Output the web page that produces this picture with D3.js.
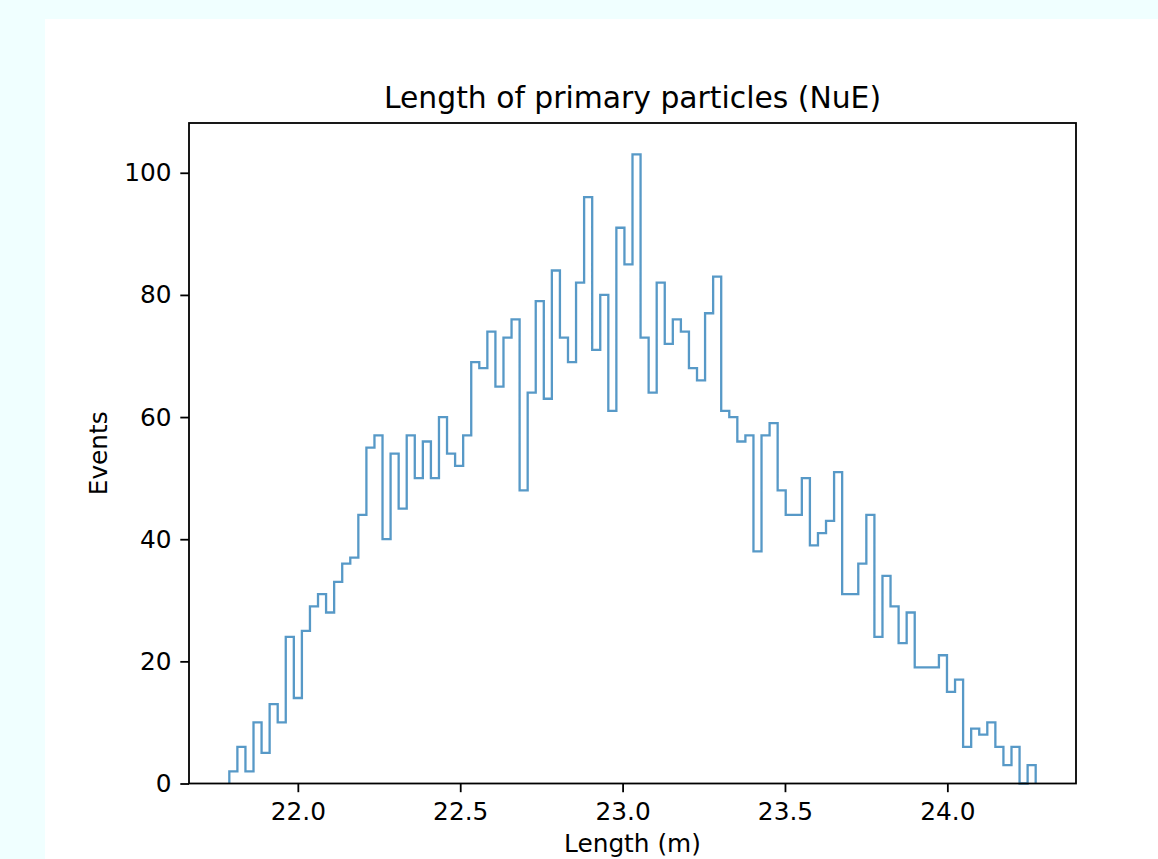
<!DOCTYPE html>
<html>
<head>
<meta charset="utf-8">
<script src="https://cdn.jsdelivr.net/npm/d3@7"></script>
<style>
	body { margin: 0; background: #f0ffff; overflow: hidden; }
	svg { display: block; }
	text { font-family: "DejaVu Sans", sans-serif; fill: #000; }
</style>
</head>
<body>
<script>
const w = 1158;
const h = 859;

// histogram: 100 equal bins between binStart and binEnd
const binStart = 21.789;
const binEnd = 24.272;
const counts = [
	2, 6, 2, 10, 5, 13, 10, 24, 14, 25,
	29, 31, 28, 33, 36, 37, 44, 55, 57, 40,
	54, 45, 57, 50, 56, 50, 60, 54, 52, 57,
	69, 68, 74, 65, 73, 76, 48, 64, 79, 63,
	84, 73, 69, 82, 96, 71, 80, 61, 91, 85,
	103, 73, 64, 82, 72, 76, 74, 68, 66, 77,
	83, 61, 60, 56, 57, 38, 57, 59, 48, 44,
	44, 50, 39, 41, 43, 51, 31, 31, 36, 44,
	24, 34, 29, 23, 28, 19, 19, 19, 21, 15,
	17, 6, 9, 8, 10, 6, 3, 6, 0, 3,
];
const xTicks = [22.0, 22.5, 23.0, 23.5, 24.0];
const yTicks = [0, 20, 40, 60, 80, 100];

const plotL = 189, plotR = 1076, plotT = 123, plotB = 783.5;
const tickLen = 8.7, tickPad = 8.7, fontSize = 24.8;

const svg = d3.select("body")
	.append("svg")
	.attr("width", w)
	.attr("height", h);

// white figure panel
svg.append("rect")
	.attr("x", 45)
	.attr("y", 19)
	.attr("width", w - 45)
	.attr("height", h - 19)
	.attr("fill", "#fff");

// * SCALES (matplotlib-style 5% margins)
const span = binEnd - binStart;
const xScale = d3.scaleLinear()
	.domain([binStart - 0.05 * span, binEnd + 0.05 * span])
	.range([plotL, plotR]);
const yScale = d3.scaleLinear()
	.domain([0, d3.max(counts) * 1.05])
	.range([plotB, plotT]);

// * STEP OUTLINE
const binW = span / counts.length;
const pts = [[binStart, 0]];
counts.forEach((c, i) => {
	pts.push([binStart + i * binW, c]);
	pts.push([binStart + (i + 1) * binW, c]);
});
pts.push([binEnd, 0]);

const line = d3.line()
	.x((d) => xScale(d[0]))
	.y((d) => yScale(d[1]));

svg.append("path")
	.datum(pts)
	.attr("d", line)
	.attr("fill", "none")
	.attr("stroke", "#1f77b4")
	.attr("stroke-opacity", 0.75)
	.attr("stroke-width", 2.3)
	.attr("stroke-linejoin", "miter");

// * AXES
const xAxis = d3.axisBottom(xScale)
	.tickValues(xTicks)
	.tickFormat(d3.format(".1f"))
	.tickSize(tickLen)
	.tickPadding(tickPad);
const gx = svg.append("g")
	.attr("transform", "translate(0," + plotB + ")")
	.call(xAxis);

const yAxis = d3.axisLeft(yScale)
	.tickValues(yTicks)
	.tickSize(tickLen)
	.tickPadding(tickPad);
const gy = svg.append("g")
	.attr("transform", "translate(" + plotL + ",0)")
	.call(yAxis);

[gx, gy].forEach((g) => {
	g.select(".domain").remove();
	g.selectAll(".tick line").attr("stroke", "#000").attr("stroke-width", 1.8);
	g.selectAll(".tick text")
		.style("font-family", "DejaVu Sans, sans-serif")
		.style("font-size", fontSize + "px")
		.attr("fill", "#000");
});
gx.selectAll(".tick text").attr("dy", "0.78em");

// frame
svg.append("rect")
	.attr("x", plotL)
	.attr("y", plotT)
	.attr("width", plotR - plotL)
	.attr("height", plotB - plotT)
	.attr("fill", "none")
	.attr("stroke", "#000")
	.attr("stroke-width", 1.8);

// * LABELS
svg.append("text")
	.attr("x", (plotL + plotR) / 2)
	.attr("y", 108)
	.attr("text-anchor", "middle")
	.style("font-size", "29.8px")
	.text("Length of primary particles (NuE)");

svg.append("text")
	.attr("x", (plotL + plotR) / 2)
	.attr("y", 852)
	.attr("text-anchor", "middle")
	.style("font-size", fontSize + "px")
	.text("Length (m)");

svg.append("text")
	.attr("transform", "translate(107," + (plotT + plotB) / 2 + ") rotate(-90)")
	.attr("text-anchor", "middle")
	.style("font-size", fontSize + "px")
	.text("Events");
</script>
</body>
</html>
